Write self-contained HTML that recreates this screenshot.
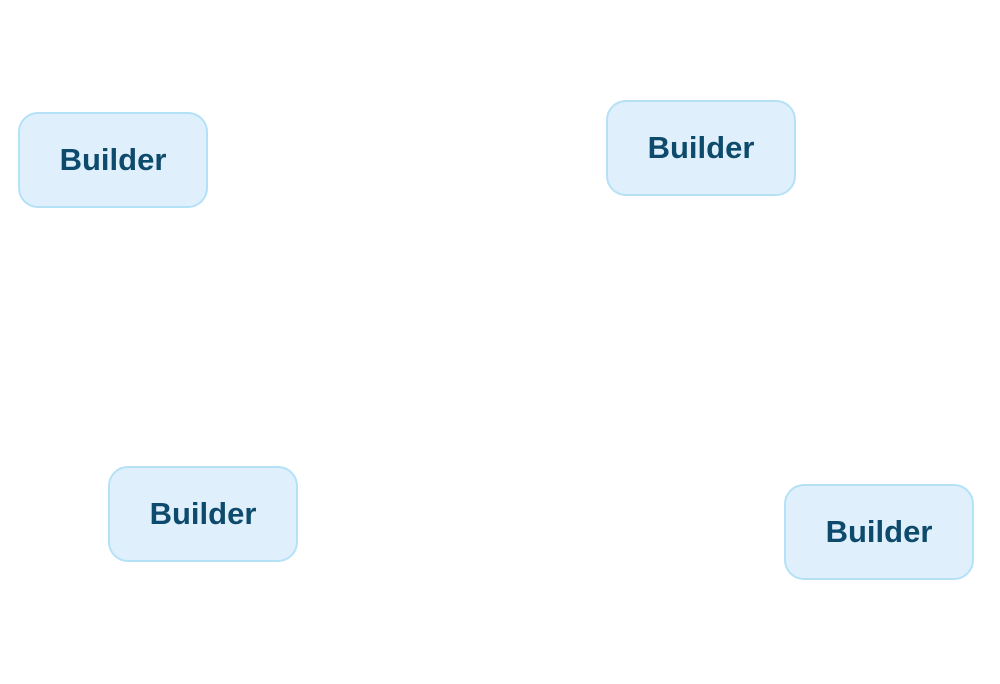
<!DOCTYPE html>
<html><head><style>
html,body{margin:0;padding:0;background:#fff;width:1000px;height:684px;overflow:hidden}
.b{position:absolute;width:186px;height:92px;background:#dff0fc;border:2px solid #b5e1f7;border-radius:20px;display:flex;align-items:center;justify-content:center;font-family:"Liberation Sans",sans-serif;font-weight:bold;font-size:31px;color:#0e4a6c;box-sizing:content-box}
</style></head><body>
<div class="b" style="left:18px;top:112px">Builder</div>
<div class="b" style="left:606px;top:100px">Builder</div>
<div class="b" style="left:108px;top:466px">Builder</div>
<div class="b" style="left:784px;top:484px">Builder</div>
</body></html>
